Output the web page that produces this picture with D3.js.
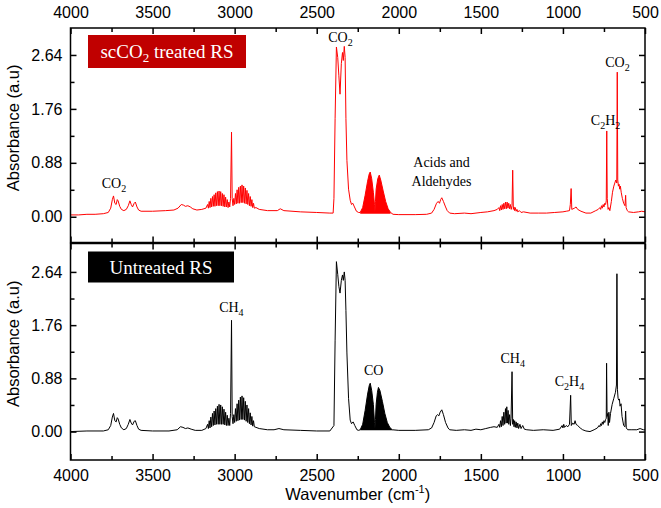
<!DOCTYPE html>
<html><head><meta charset="utf-8">
<script src="https://cdn.jsdelivr.net/npm/d3@7"></script>
<style>
html,body{margin:0;padding:0;background:#fff;}
svg{display:block;}
text{font-family:"Liberation Sans",Arial,sans-serif;}
.ser{font-family:"Liberation Serif","Times New Roman",serif;}
</style></head>
<body>
<svg id="c" width="661" height="508"></svg>
<script>
// ---------- data ----------
const xTickValues = [4000, 3500, 3000, 2500, 2000, 1500, 1000, 500];
const xMinorValues = [3750, 3250, 2750, 2250, 1750, 1250, 750];
const yTickValues = [0.00, 0.88, 1.76, 2.64];
const yMinorValues = [0.44, 1.32, 2.20];
const panelNames = ["scCO2 treated RS", "Untreated RS"];

// treated (scCO2) spectrum: [wavenumber, absorbance]
const treatedSpectrum = [
[4000,0.03],[3950,0.03],[3900,0.04],[3850,0.04],[3800,0.05],[3770,0.07],[3755,0.14],[3745,0.28],[3738,0.34],[3730,0.22],[3722,0.2],[3715,0.28],[3710,0.26],[3700,0.17],[3690,0.12],[3675,0.1],[3660,0.12],[3648,0.18],[3638,0.26],[3630,0.2],[3622,0.16],[3612,0.22],[3605,0.24],[3595,0.16],[3585,0.11],[3570,0.09],[3500,0.09],[3420,0.1],[3370,0.11],[3345,0.14],[3325,0.2],[3312,0.19],[3300,0.17],[3285,0.18],[3270,0.16],[3255,0.13],[3230,0.11],[3200,0.12],[3175,0.14],
[3165,0.2],[3160,0.14],[3155,0.25],[3150,0.15],[3145,0.3],[3140,0.16],[3135,0.33],[3130,0.17],[3125,0.36],[3120,0.17],[3115,0.39],[3110,0.18],[3105,0.41],[3100,0.18],[3095,0.42],[3090,0.18],[3085,0.41],[3080,0.18],[3075,0.38],[3070,0.17],[3065,0.36],[3060,0.16],[3055,0.32],[3050,0.16],[3045,0.28],[3040,0.15],[3035,0.24],[3030,0.16],[3025,0.3],[3019,1.38],[3015,0.3],[3010,0.18],[3005,0.3],[3000,0.2],[2995,0.38],[2990,0.21],[2985,0.44],[2980,0.22],[2975,0.48],[2970,0.22],[2965,0.5],[2960,0.23],[2955,0.52],[2950,0.23],[2945,0.5],[2940,0.22],[2935,0.47],[2930,0.21],[2925,0.43],[2920,0.2],[2915,0.38],[2910,0.18],[2905,0.33],[2900,0.17],[2895,0.28],[2890,0.15],[2885,0.22],[2880,0.14],[2870,0.15],[2850,0.12],[2800,0.1],[2740,0.1],[2722,0.13],[2700,0.1],[2600,0.08],[2500,0.07],[2420,0.06],[2400,0.06],
[2395,0.3],[2388,1.6],[2380,2.77],[2372,2.6],[2365,2.3],[2358,2.0],[2350,2.5],[2343,2.68],[2338,2.55],[2332,2.78],[2327,2.6],[2322,1.6],[2316,0.92],[2306,0.45],[2296,0.27],[2288,0.2],[2280,0.22],[2270,0.16],[2258,0.09],[2245,0.07],
[2235,0.07],[2220,0.15],[2205,0.35],[2190,0.58],[2180,0.7],[2174,0.73],[2165,0.62],[2155,0.4],[2148,0.2],[2145,0.08],[2142,0.25],[2138,0.45],[2128,0.62],[2119,0.68],[2110,0.6],[2095,0.42],[2080,0.25],[2065,0.13],[2050,0.07],[2035,0.04],
[2000,0.035],[1900,0.035],[1830,0.04],[1800,0.06],[1785,0.12],[1770,0.22],[1760,0.25],[1752,0.22],[1745,0.28],[1738,0.31],[1728,0.25],[1715,0.16],[1705,0.1],[1690,0.06],[1660,0.05],[1600,0.06],[1560,0.05],[1500,0.07],[1460,0.08],[1420,0.1],[1400,0.12],
[1390,0.15],[1385,0.1],[1380,0.18],[1375,0.11],[1370,0.2],[1365,0.12],[1360,0.22],[1355,0.13],[1350,0.24],[1345,0.13],[1340,0.24],[1335,0.14],[1330,0.22],[1325,0.13],[1320,0.2],[1315,0.12],[1310,0.18],[1306,0.76],[1302,0.12],[1298,0.16],[1294,0.1],[1290,0.15],[1285,0.09],[1280,0.12],[1275,0.08],[1265,0.1],[1255,0.07],[1240,0.08],[1200,0.06],[1150,0.06],[1100,0.06],[1050,0.07],[1000,0.08],[980,0.09],[960,0.1],[955,0.2],[950,0.46],[946,0.12],[930,0.14],[920,0.16],[910,0.12],[890,0.09],[860,0.06],[830,0.06],
[800,0.1],[785,0.12],[775,0.15],[770,0.12],[765,0.18],[760,0.14],[755,0.2],[750,0.16],[745,0.22],[740,0.2],[736,0.26],[733,1.4],[730,0.3],[725,0.12],[720,0.15],[714,0.1],[705,0.25],[698,0.4],[690,0.5],[684,0.55],[678,0.6],[672,0.55],[669,2.36],[666,0.6],[662,0.5],[658,0.53],[654,0.45],[650,0.5],[645,0.4],[638,0.3],[630,0.22],[622,0.18],[618,0.35],[615,0.15],[608,0.1],[600,0.08],[570,0.07],[540,0.08],[520,0.09],[500,0.08]
];

// untreated spectrum
const untreatedSpectrum = [
[4000,0.0],[3900,0.01],[3800,0.01],[3770,0.03],[3755,0.1],[3745,0.24],[3738,0.3],[3730,0.18],[3722,0.16],[3715,0.23],[3710,0.21],[3700,0.12],[3690,0.06],[3675,0.03],[3660,0.05],[3648,0.12],[3638,0.2],[3630,0.14],[3622,0.11],[3612,0.17],[3605,0.18],[3595,0.1],[3585,0.04],[3570,0.02],[3500,0.01],[3400,0.01],[3350,0.03],[3330,0.08],[3315,0.07],[3300,0.05],[3285,0.06],[3265,0.04],[3240,0.02],[3200,0.02],[3175,0.05],
[3165,0.12],[3160,0.05],[3155,0.18],[3150,0.06],[3145,0.24],[3140,0.08],[3135,0.3],[3130,0.1],[3125,0.34],[3120,0.11],[3115,0.38],[3110,0.12],[3105,0.42],[3100,0.12],[3095,0.45],[3090,0.12],[3085,0.44],[3080,0.12],[3075,0.41],[3070,0.12],[3065,0.37],[3060,0.11],[3055,0.32],[3050,0.1],[3045,0.27],[3040,0.1],[3035,0.22],[3030,0.1],[3025,0.3],[3019,1.84],[3015,0.25],[3010,0.13],[3005,0.28],[3000,0.15],[2995,0.38],[2990,0.17],[2985,0.46],[2980,0.18],[2975,0.52],[2970,0.19],[2965,0.57],[2960,0.2],[2955,0.59],[2950,0.2],[2945,0.56],[2940,0.19],[2935,0.5],[2930,0.17],[2925,0.44],[2920,0.15],[2915,0.38],[2910,0.13],[2905,0.31],[2900,0.11],[2895,0.25],[2890,0.09],[2885,0.18],[2880,0.08],[2870,0.07],[2850,0.05],[2800,0.03],[2760,0.03],[2730,0.05],[2700,0.03],[2600,0.02],[2500,0.01],[2420,0.01],
[2395,0.1],[2388,1.5],[2380,2.81],[2372,2.6],[2365,2.4],[2358,2.29],[2350,2.5],[2343,2.59],[2338,2.5],[2332,2.64],[2327,2.5],[2322,2.0],[2316,1.3],[2306,0.55],[2296,0.19],[2288,0.13],[2278,0.16],[2268,0.1],[2255,0.03],[2245,0.02],
[2235,0.03],[2220,0.12],[2205,0.35],[2190,0.62],[2180,0.76],[2174,0.8],[2165,0.68],[2155,0.45],[2148,0.15],[2145,0.05],[2142,0.2],[2138,0.45],[2130,0.65],[2124,0.73],[2115,0.68],[2100,0.5],[2085,0.3],[2070,0.15],[2055,0.07],[2040,0.03],
[2000,0.02],[1900,0.02],[1820,0.03],[1800,0.06],[1785,0.15],[1772,0.26],[1764,0.28],[1756,0.26],[1748,0.32],[1738,0.36],[1728,0.28],[1715,0.15],[1700,0.06],[1690,0.03],[1650,0.02],[1600,0.03],[1560,0.02],[1530,0.04],[1500,0.03],[1470,0.05],[1440,0.07],[1420,0.08],[1400,0.07],
[1390,0.12],[1385,0.07],[1380,0.18],[1375,0.08],[1370,0.25],[1365,0.1],[1360,0.32],[1355,0.12],[1350,0.38],[1346,0.14],[1342,0.41],[1338,0.14],[1334,0.35],[1330,0.12],[1325,0.28],[1320,0.1],[1316,0.22],[1310,0.99],[1306,0.12],[1302,0.2],[1298,0.08],[1294,0.18],[1290,0.07],[1285,0.16],[1280,0.06],[1275,0.14],[1270,0.05],[1262,0.12],[1255,0.05],[1245,0.1],[1235,0.04],[1220,0.03],[1180,0.02],[1120,0.03],[1060,0.02],[1020,0.04],[1005,0.1],[1000,0.06],[995,0.12],[990,0.07],[980,0.1],[970,0.08],[960,0.12],[953,0.6],[949,0.1],[940,0.14],[932,0.12],[926,0.18],[920,0.12],[910,0.1],[895,0.06],[880,0.03],[860,0.01],[835,0.0],
[810,0.03],[790,0.06],[780,0.1],[775,0.08],[770,0.13],[765,0.1],[760,0.16],[755,0.12],[750,0.18],[745,0.15],[740,0.2],[736,0.22],[734,1.13],[731,0.25],[727,0.3],[724,0.1],[720,0.32],[716,0.15],[710,0.3],[700,0.45],[690,0.55],[680,0.65],[674,0.77],[671,2.61],[668,0.7],[664,0.55],[660,0.52],[656,0.54],[652,0.42],[646,0.46],[640,0.25],[630,0.1],[622,0.08],[618,0.34],[614,0.06],[605,0.03],[580,0.03],[550,0.03],[530,0.05],[510,0.03],[500,0.03]
];

// densely filled rotational bands (CO) : [from, to] wavenumber
const filledBand = [2238, 2036];

// annotations: parts [string, isSub], position [wavenumber, absorbance]
const treatedLabels = [
  {parts:[["CO",0],["2",1]], wn:3735, a:0.47},
  {parts:[["CO",0],["2",1]], wn:2355, a:2.85},
  {parts:[["C",0],["2",1],["H",0],["2",1]], wn:740, a:1.5},
  {parts:[["CO",0],["2",1]], wn:668, a:2.45},
  {parts:[["Acids and",0]], wn:1740, a:0.82},
  {parts:[["Aldehydes",0]], wn:1740, a:0.5}
];
const untreatedLabels = [
  {parts:[["CH",0],["4",1]], wn:3020, a:1.97},
  {parts:[["CO",0]], wn:2153, a:0.94},
  {parts:[["CH",0],["4",1]], wn:1306, a:1.14},
  {parts:[["C",0],["2",1],["H",0],["4",1]], wn:960, a:0.75}
];

// ---------- chart ----------
const svg = d3.select("#c");
const x = d3.scaleLinear().domain([4000, 500]).range([70.5, 645]);
const panels = [
  {y: d3.scaleLinear().domain([-0.42, 3.08]).range([242.5, 28]), data: treatedSpectrum,
   color: "#ff0000", boxColor: "#c00000", labels: treatedLabels, name: panelNames[0], top: 28, bottom: 242.5, base: 0.05},
  {y: d3.scaleLinear().domain([-0.47, 3.11]).range([460, 243.5]), data: untreatedSpectrum,
   color: "#000000", boxColor: "#000000", labels: untreatedLabels, name: panelNames[1], top: 243.5, bottom: 460, base: 0.02}
];

panels.forEach((p, i) => {
  const cid = "clip" + i;
  svg.append("clipPath").attr("id", cid).append("rect")
    .attr("x", x(4000)).attr("y", p.top).attr("width", x(500) - x(4000)).attr("height", p.bottom - p.top);
  const g = svg.append("g").attr("clip-path", `url(#${cid})`);
  const band = p.data.filter(d => d[0] <= filledBand[0] && d[0] >= filledBand[1]);
  g.append("path").datum(band)
    .attr("d", d3.area().x(d => x(d[0])).y0(p.y(p.base)).y1(d => p.y(d[1])))
    .attr("fill", p.color).attr("stroke", "none");
  g.append("path").datum(p.data)
    .attr("d", d3.line().x(d => x(d[0])).y(d => p.y(d[1])))
    .attr("fill", "none").attr("stroke", p.color).attr("stroke-width", 1);

  const styleAxis = sel => {
    sel.select(".domain").remove();
    sel.selectAll("line").attr("stroke", "#000").attr("stroke-width", 1.5);
    sel.selectAll("text").attr("font-size", "16px").attr("fill", "#000")
      .style("font-family", '"Liberation Sans", Arial, sans-serif');
  };
  svg.append("g").attr("transform", `translate(0,${p.top})`)
    .call(d3.axisTop(x).tickValues(xTickValues).tickSize(-6).tickPadding(i === 0 ? 10 : 0)
      .tickFormat(i === 0 ? d3.format("d") : () => "")).call(styleAxis);
  svg.append("g").attr("transform", `translate(0,${p.top})`)
    .call(d3.axisTop(x).tickValues(xMinorValues).tickSize(-4).tickFormat(() => "")).call(styleAxis);
  svg.append("g").attr("transform", `translate(0,${p.bottom})`)
    .call(d3.axisBottom(x).tickValues(xTickValues).tickSize(-6).tickPadding(i === 1 ? 10 : 0)
      .tickFormat(i === 1 ? d3.format("d") : () => "")).call(styleAxis);
  svg.append("g").attr("transform", `translate(0,${p.bottom})`)
    .call(d3.axisBottom(x).tickValues(xMinorValues).tickSize(-4).tickFormat(() => "")).call(styleAxis);
  svg.append("g").attr("transform", `translate(${x(4000)},0)`)
    .call(d3.axisLeft(p.y).tickValues(yTickValues).tickSize(-6).tickPadding(8).tickFormat(d3.format(".2f")))
    .call(styleAxis);
  svg.append("g").attr("transform", `translate(${x(4000)},0)`)
    .call(d3.axisLeft(p.y).tickValues(yMinorValues).tickSize(-4).tickFormat(() => "")).call(styleAxis);
  svg.append("g").attr("transform", `translate(${x(500)},0)`)
    .call(d3.axisRight(p.y).tickValues(yTickValues).tickSize(-6).tickFormat(() => "")).call(styleAxis);
  svg.append("g").attr("transform", `translate(${x(500)},0)`)
    .call(d3.axisRight(p.y).tickValues(yMinorValues).tickSize(-4).tickFormat(() => "")).call(styleAxis);

  svg.append("rect").attr("x", x(4000)).attr("y", p.top).attr("width", x(500) - x(4000))
    .attr("height", p.bottom - p.top).attr("fill", "none").attr("stroke", "#000").attr("stroke-width", 1.5);

  const mid = (p.y(0) + p.y(2.64)) / 2 - 8;
  svg.append("text").attr("transform", `translate(19,${mid}) rotate(-90)`)
    .attr("text-anchor", "middle").attr("font-size", "16.5px").text("Absorbance (a.u)");

  const bx = 88, by = p.top + (i === 0 ? 7 : 8), bw = i === 0 ? 158 : 146, bh = i === 0 ? 33 : 31;
  svg.append("rect").attr("x", bx).attr("y", by).attr("width", bw).attr("height", bh).attr("fill", p.boxColor);
  const lt = svg.append("text").attr("class", "ser").attr("x", bx + bw / 2).attr("y", by + bh / 2 + 6.5)
    .attr("text-anchor", "middle").attr("fill", "#fff").attr("font-size", "19px");
  if (i === 0) {
    lt.append("tspan").text("scCO");
    lt.append("tspan").attr("font-size", "13px").attr("dy", 4).text("2");
    lt.append("tspan").attr("dy", -4).text(" treated RS");
  } else {
    lt.text(p.name);
  }

  p.labels.forEach(l => {
    const t = svg.append("text").attr("class", "ser").attr("x", x(l.wn)).attr("y", p.y(l.a))
      .attr("text-anchor", "middle").attr("font-size", "14px").attr("fill", "#000");
    let shifted = false;
    l.parts.forEach(([s, sub]) => {
      const ts = t.append("tspan").text(s);
      if (sub && !shifted) { ts.attr("dy", 4).attr("font-size", "10px"); shifted = true; }
      else if (!sub && shifted) { ts.attr("dy", -4); shifted = false; }
      else if (sub) { ts.attr("font-size", "10px"); }
    });
  });
});

const xt = svg.append("text").attr("x", (x(4000) + x(500)) / 2).attr("y", 500)
  .attr("text-anchor", "middle").attr("font-size", "16.5px");
xt.append("tspan").text("Wavenumber (cm");
xt.append("tspan").attr("font-size", "11px").attr("dy", -7).text("-1");
xt.append("tspan").attr("dy", 7).text(")");
</script>
</body></html>
